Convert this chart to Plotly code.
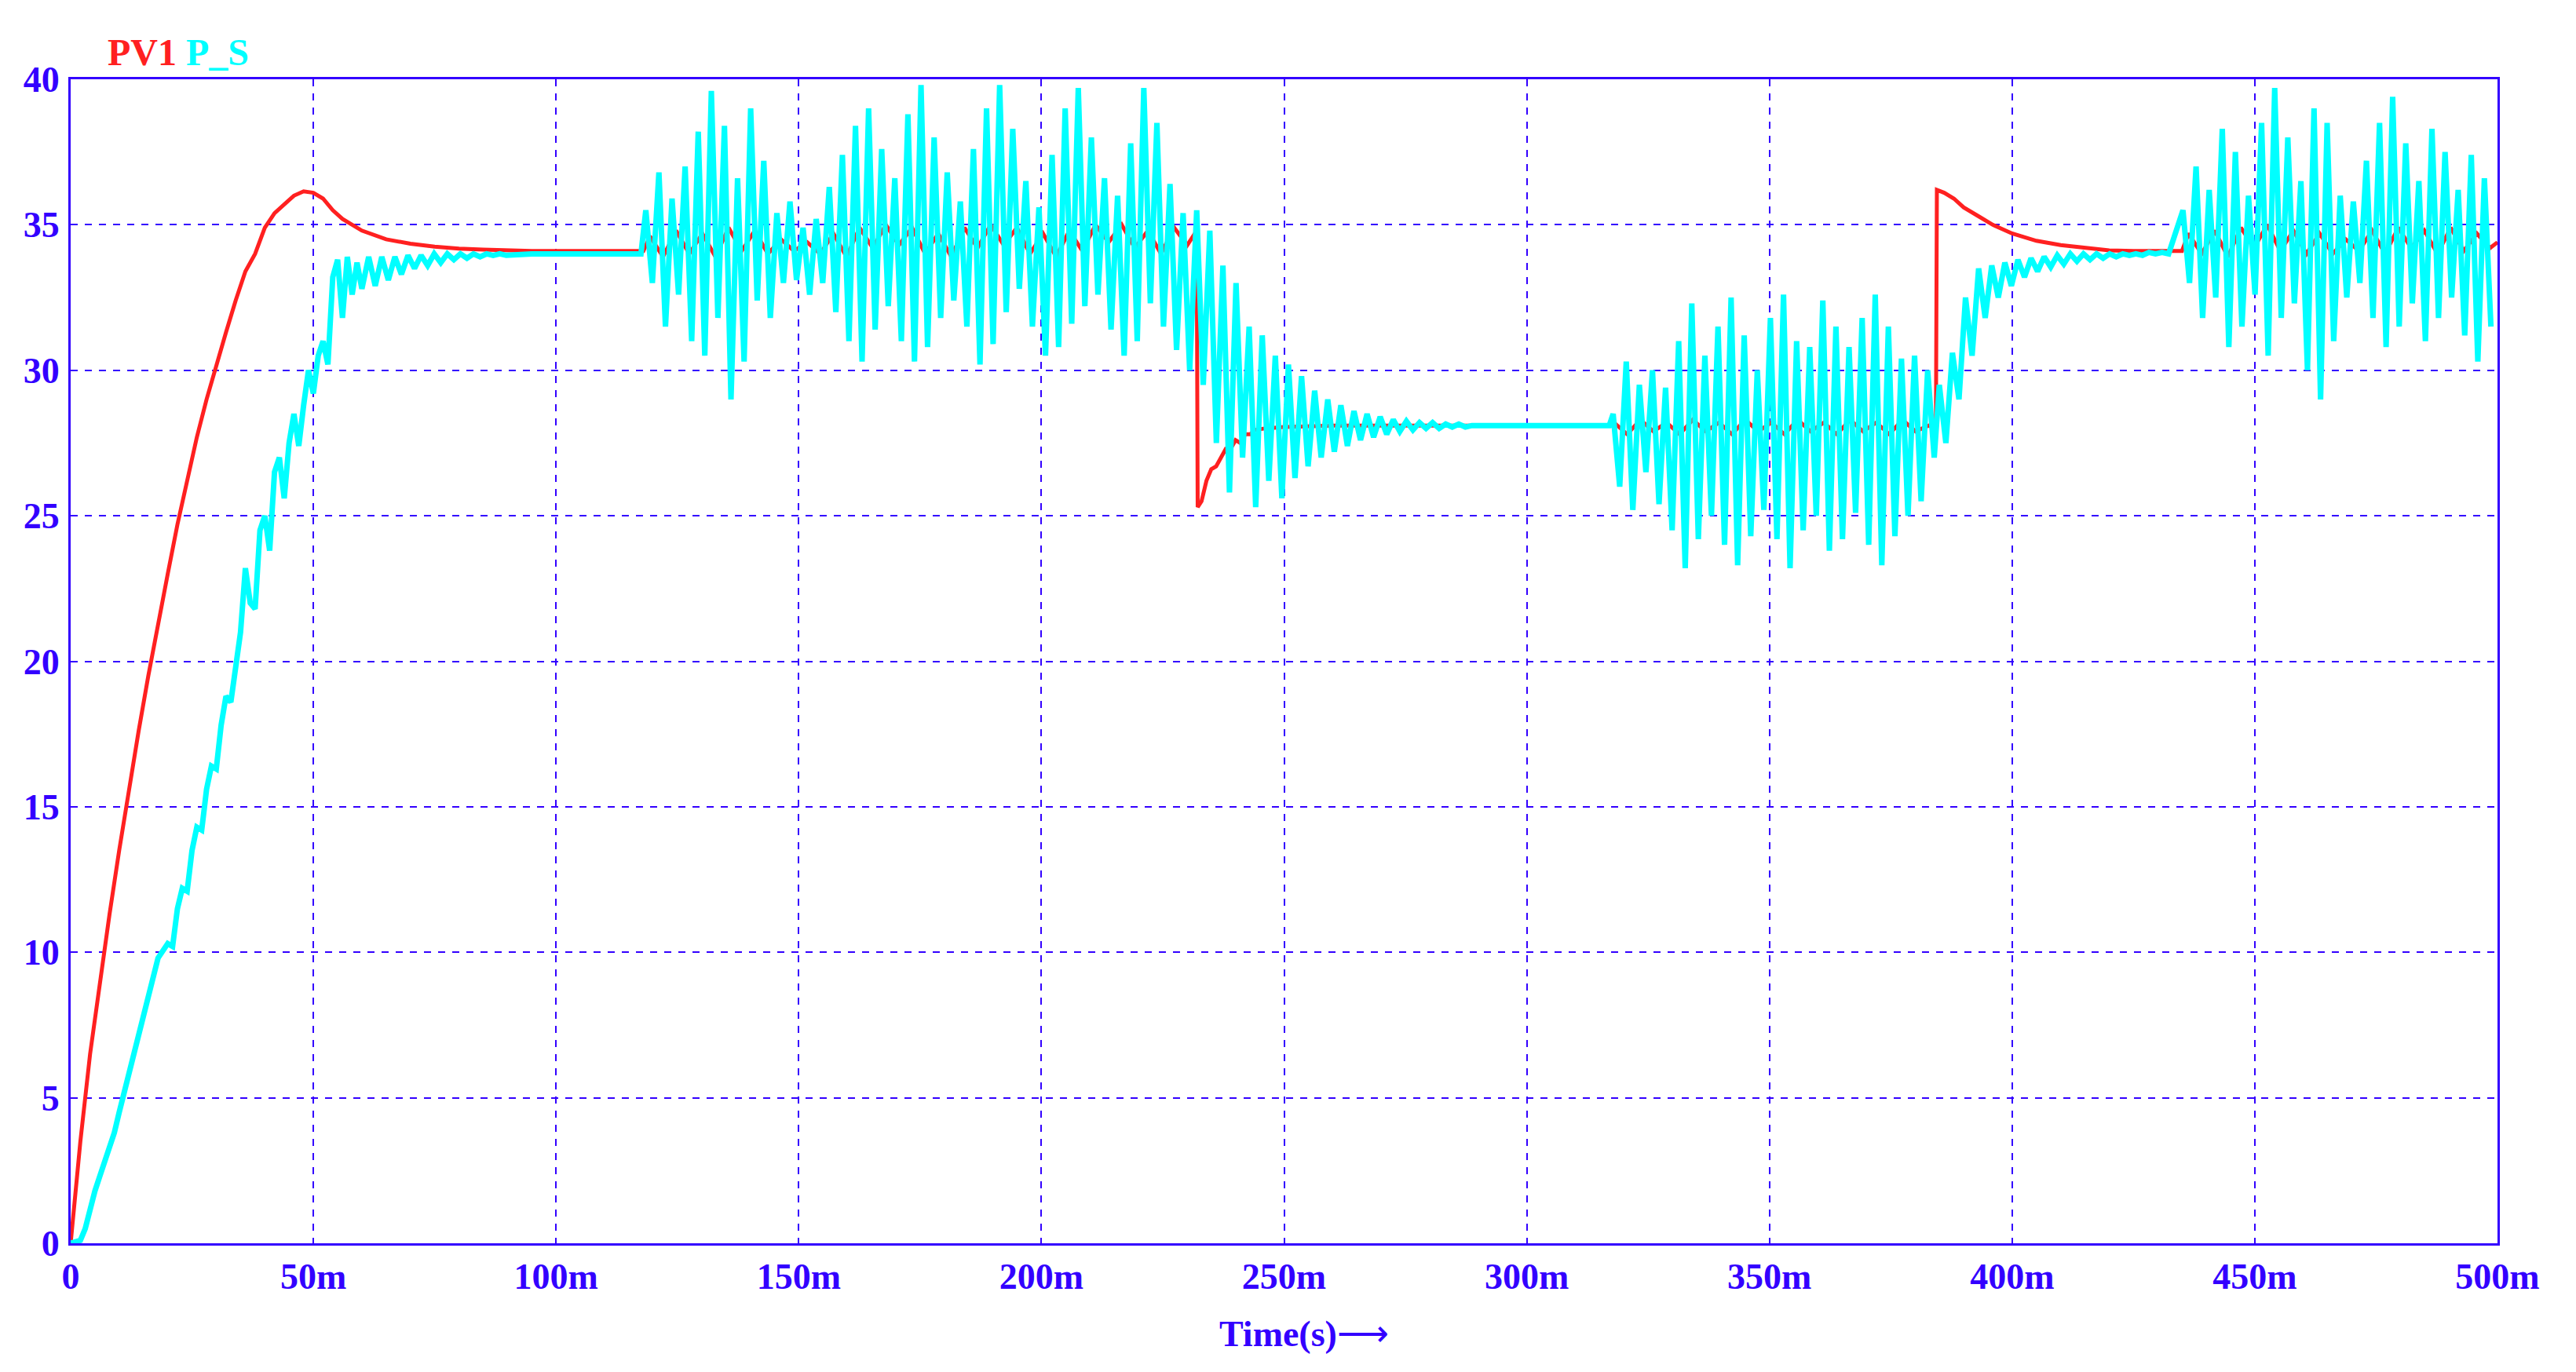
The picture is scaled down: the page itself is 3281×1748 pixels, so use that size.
import numpy as np
import plotly.graph_objects as go

# ---- data (ms / value) ----
red_ramp_t = [0, 2, 4, 6, 8, 10, 12, 14, 16, 18, 20, 22, 24, 26, 28, 30, 32, 34, 36, 38, 40, 42, 44, 46, 48,
              50, 52, 54, 56, 58, 60, 65, 70, 75, 80, 85, 90, 95, 100, 118]
red_ramp_v = [0, 3.5, 6.5, 9.0, 11.3, 13.5, 15.6, 17.6, 19.5, 21.3, 23.0, 24.7, 26.2, 27.7, 29.0, 30.2, 31.3,
              32.4, 33.4, 34.0, 34.9, 35.4, 35.7, 36.0, 36.15, 36.1, 35.9, 35.5, 35.2, 35.0, 34.8, 34.5, 34.35,
              34.25, 34.18, 34.15, 34.12, 34.1, 34.1, 34.1]
red_rip1 = [34.6, 33.9, 34.8, 34.0, 34.7, 33.9, 34.9, 34.1, 34.8, 34.0, 34.5, 34.1, 34.4, 34.0, 34.7, 33.9, 34.9,
            34.2, 35.0, 34.3, 34.9, 34.0, 34.7, 33.9, 34.9, 34.2, 35.0, 34.3, 34.9, 34.0, 34.7, 33.9, 34.8, 34.1,
            35.0, 34.4, 35.0, 34.2, 34.8, 34.0, 34.9, 34.3]
red_drop_t = [232, 232.2, 233, 234, 235, 236, 237, 238, 239, 240, 241, 242, 243, 244, 246, 250, 260, 317]
red_drop_v = [34.8, 25.3, 25.5, 26.2, 26.6, 26.7, 27.0, 27.3, 27.3, 27.6, 27.5, 27.8, 27.8, 27.95, 28.0, 28.05,
              28.1, 28.1]
red_rip3 = [28.2, 27.8, 28.3, 27.9, 28.2, 27.8, 28.3, 27.9, 28.2, 27.8, 28.3, 27.9, 28.2, 27.8, 28.3, 27.9, 28.2,
            27.8, 28.3, 27.9, 28.2, 27.8, 28.3, 27.9, 28.1]
red_jump_t = [384.3, 384.5, 386, 388, 390, 393, 396, 400, 405, 410, 415, 420, 425, 435]
red_jump_v = [28.0, 36.2, 36.1, 35.9, 35.6, 35.3, 35.0, 34.7, 34.45, 34.3, 34.2, 34.12, 34.1, 34.1]
red_rip5 = [34.7, 34.0, 34.8, 33.9, 34.9, 34.2, 35.0, 34.1, 34.8, 34.0, 34.7, 34.0, 34.5, 34.1, 34.8, 34.0, 34.9,
            34.2, 34.8, 34.0, 34.9, 34.1, 34.7, 34.2]

cy_ramp_t = [0, 2, 3, 4, 5, 6, 7, 8, 9, 10, 12, 14, 16, 18, 20] + list(range(21, 61))
cy_ramp_v = [0, 0.1, 0.5, 1.2, 1.8, 2.3, 2.8, 3.2, 3.8, 4.5, 5.8, 7.2, 8.5, 9.8, 10.3,
             10.2, 11.5, 12.2, 12.1, 13.5, 14.3, 14.2, 15.6, 16.4, 16.3, 17.8, 18.8, 18.6, 19.8, 21.0, 23.2,
             22.0, 21.8, 24.5, 25.0, 23.8, 26.5, 27.0, 25.6, 27.5, 28.5, 27.4, 28.8, 30.0, 29.2, 30.5, 31.0,
             30.2, 33.2, 33.8, 31.8, 33.9, 32.6, 33.7, 32.8]
cy_settle = [33.9, 32.9, 33.9, 33.1, 33.9, 33.3, 33.95, 33.5, 33.95, 33.6, 34.0, 33.7, 34.0, 33.8, 34.0, 33.85,
             34.0, 33.9, 34.0, 33.95, 34.0, 33.95]
cy_h1 = [35.5, 36.8, 35.9, 37.0, 38.2, 39.6, 38.4, 36.6, 39.0, 37.2, 35.4, 35.8, 34.9, 35.2, 36.3, 37.4, 38.4,
         39.0, 37.6, 36.6, 38.8, 39.8, 38.0, 36.8, 35.8, 37.6, 39.0, 39.8, 38.3, 36.5, 35.6, 37.4, 39.0, 39.7,
         38.0, 36.6, 36.0, 37.8, 39.7, 38.5, 36.4, 35.4]
cy_l1 = [33.0, 31.5, 32.6, 31.0, 30.5, 31.8, 29.0, 30.3, 32.4, 31.8, 33.0, 33.1, 32.6, 33.0, 32.0, 31.0, 30.3,
         31.4, 32.2, 31.0, 30.3, 30.8, 31.8, 32.4, 31.5, 30.2, 30.9, 32.0, 32.8, 31.5, 30.5, 30.8, 31.6, 32.2,
         32.6, 31.4, 30.5, 31.0, 32.3, 31.5, 30.7, 30.0]
cy_h2 = [35.5, 34.8, 33.6, 33.0, 31.5, 31.2, 30.5, 30.2, 29.8, 29.3, 29.0, 28.8, 28.6, 28.5, 28.4, 28.3, 28.25,
         28.2, 28.2, 28.15, 28.15, 28.1]
cy_l2 = [29.5, 27.5, 25.8, 27.0, 25.3, 26.2, 25.6, 26.3, 26.7, 27.0, 27.2, 27.4, 27.6, 27.7, 27.8, 27.9, 27.95,
         28.0, 28.0, 28.05, 28.05, 28.1]
cy_h3 = [28.5, 30.3, 29.5, 30.0, 29.4, 31.0, 32.3, 30.5, 31.5, 32.5, 31.2, 30.0, 31.8, 32.6, 31.0, 30.8, 32.4,
         31.5, 30.8, 31.8, 32.6, 31.5, 30.4, 30.5, 30.0]
cy_l3 = [26.0, 25.2, 26.5, 25.4, 24.5, 23.2, 24.2, 25.0, 24.0, 23.3, 24.3, 25.2, 24.2, 23.2, 24.5, 25.0, 23.8,
         24.2, 25.1, 24.0, 23.3, 24.3, 25.0, 25.5, 27.0]
cy_h4 = [29.5, 30.6, 32.5, 33.5, 33.6, 33.7, 33.8, 33.85, 33.9, 33.95, 34.0, 34.0, 34.0, 34.0, 34.0, 34.0,
         34.05, 34.05]
cy_l4 = [27.5, 29.0, 30.5, 31.8, 32.5, 32.9, 33.2, 33.4, 33.55, 33.65, 33.75, 33.8, 33.85, 33.9, 33.95, 33.95,
         34.0, 34.0]
cy_h5 = [35.5, 37.0, 36.2, 38.3, 37.5, 36.0, 38.5, 39.7, 38.0, 36.5, 39.0, 38.5, 36.0, 35.8, 37.2, 38.5, 39.4,
         37.8, 36.5, 38.3, 37.5, 36.2, 37.4, 36.6]
cy_l5 = [33.0, 31.8, 32.5, 30.8, 31.5, 32.6, 30.5, 31.8, 32.3, 30.0, 29.0, 31.0, 32.5, 33.0, 31.8, 30.8, 31.5,
         32.3, 31.0, 31.8, 32.5, 31.2, 30.3, 31.5]

x_ticks = [0, 50, 100, 150, 200, 250, 300, 350, 400, 450, 500]
x_labels = ["0", "50m", "100m", "150m", "200m", "250m", "300m", "350m", "400m", "450m", "500m"]
y_ticks = [0, 5, 10, 15, 20, 25, 30, 35, 40]

HALF = 1.35  # half period of the oscillation, ms


def seg(start, vals, step):
    return [start + step * i for i in range(len(vals))], list(vals)


def interleave(highs, lows):
    out = []
    for h, l in zip(highs, lows):
        out += [h, l]
    return out


red_t, red_v = list(red_ramp_t), list(red_ramp_v)
for t0, vals, extra_t, extra_v in [(119.35, red_rip1, red_drop_t, red_drop_v),
                                   (318.0, red_rip3, red_jump_t, red_jump_v),
                                   (436.35, red_rip5, [500], [34.4])]:
    t, v = seg(t0, vals, 2 * HALF)
    red_t += t + extra_t
    red_v += v + extra_v

cy_t, cy_v = list(cy_ramp_t), list(cy_ramp_v)
t, v = seg(61.4, cy_settle, HALF)
cy_t += t + [95, 117.5]
cy_v += v + [34.0, 34.0]
for t0, hs, ls in [(118.5, cy_h1, cy_l1), (232.0, cy_h2, cy_l2)]:
    t, v = seg(t0, interleave(hs, ls), HALF)
    cy_t += t
    cy_v += v
cy_t += [317]
cy_v += [28.1]
for t0, hs, ls in [(317.8, cy_h3, cy_l3), (385.0, cy_h4, cy_l4), (435.2, cy_h5, cy_l5)]:
    t, v = seg(t0, interleave(hs, ls), HALF)
    cy_t += t
    cy_v += v

BLUE = "#3300ff"
fig = go.Figure()
fig.add_trace(go.Scatter(x=np.array(red_t), y=red_v, mode="lines", line=dict(color="#ff2020", width=5)))
fig.add_trace(go.Scatter(x=np.array(cy_t), y=cy_v, mode="lines", line=dict(color="#00ffff", width=7)))

tick_font = dict(family="Liberation Serif", size=46, color=BLUE)
fig.update_layout(
    width=3281, height=1748, showlegend=False,
    paper_bgcolor="white", plot_bgcolor="white",
    margin=dict(l=82, r=108, t=93, b=172),
    xaxis=dict(range=[0, 500], tickvals=x_ticks, ticktext=["<b>%s</b>" % s for s in x_labels],
               tickfont=tick_font, showgrid=True, gridcolor=BLUE, griddash="dash", gridwidth=2,
               showline=True, linecolor=BLUE, linewidth=3, mirror=True, zeroline=False, ticks=""),
    yaxis=dict(range=[0, 40], tickvals=y_ticks, ticktext=["<b>%d</b>" % v for v in y_ticks],
               tickfont=tick_font, showgrid=True, gridcolor=BLUE, griddash="dash", gridwidth=2,
               showline=True, linecolor=BLUE, linewidth=3, mirror=True, zeroline=False, ticks="",
               ticklabelstandoff=2),
)
fig.add_annotation(xref="paper", yref="paper", x=0.0, y=1.0, xshift=45, yshift=6, xanchor="left",
                   yanchor="bottom", showarrow=False,
                   text="<b><span style='color:#ff2020'>PV1</span> <span style='color:#00ffff'>P_S</span></b>",
                   font=dict(family="Liberation Serif", size=48))
fig.add_annotation(xref="paper", yref="paper", x=0.5, y=0, xshift=25, yshift=-88, xanchor="center",
                   yanchor="top", showarrow=False, text="<b>Time(s)</b>⟶",
                   font=dict(family="Liberation Serif", size=46, color=BLUE))
fig.write_html("out.html")
